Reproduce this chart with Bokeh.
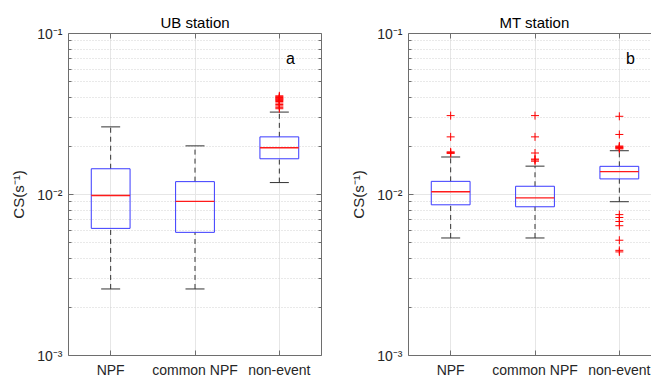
import numpy as np
from bokeh.plotting import figure
from bokeh.layouts import row
from bokeh.models import (FixedTicker, CustomJSTickFormatter, LinearAxis, LogAxis,
                          Label, ColumnDataSource, Range1d)
from bokeh.embed import file_html
from bokeh.resources import INLINE

# ---------------- data ----------------
categories = ["NPF", "common NPF", "non-event"]
panel_titles = ["UB station", "MT station"]
panel_letters = ["a", "b"]
y_label = "CS(s\u207b\u00b9)"

# UB station
ub_whisker_low = [0.00259, 0.00259, 0.01186]
ub_q1 = [0.00616, 0.00582, 0.01667]
ub_median = [0.00986, 0.00906, 0.0195]
ub_q3 = [0.01445, 0.01202, 0.0228]
ub_whisker_high = [0.0263, 0.02005, 0.0325]
ub_outliers = [[], [],
               [0.0341, 0.0348, 0.0355, 0.0362, 0.0370, 0.0378, 0.0384, 0.0388,
                0.0392, 0.0396, 0.0400, 0.0405, 0.0410]]

# MT station
mt_whisker_low = [0.00537, 0.00537, 0.00902]
mt_q1 = [0.00863, 0.00839, 0.0125]
mt_median = [0.0104, 0.00953, 0.01387]
mt_q3 = [0.01207, 0.01125, 0.01496]
mt_whisker_high = [0.0171, 0.0150, 0.0187]
mt_outliers = [[0.0309, 0.0228, 0.0184, 0.0182, 0.0180],
               [0.0309, 0.0228, 0.0181, 0.0166, 0.0164, 0.0161],
               [0.0306, 0.0236, 0.0200, 0.0198, 0.0196, 0.0194, 0.0192,
                0.0075, 0.0072, 0.0068, 0.0064, 0.0052, 0.0045, 0.0044]]

y_major = [1e-3, 1e-2, 1e-1]
y_minor = [m * 10.0 ** e for e in (-3, -2) for m in range(2, 10)]

FONT = "Liberation Sans"
AXIS_COLOR = "#6e6e6e"
TEXT_COLOR = "#262626"
BOX_W = 0.46
CAP_PX = 19

sup_js = """
const sup = {"-": "\u207b", "0": "\u2070", "1": "\u00b9", "2": "\u00b2", "3": "\u00b3",
             "4": "\u2074", "5": "\u2075", "6": "\u2076", "7": "\u2077", "8": "\u2078", "9": "\u2079"};
const e = Math.round(Math.log10(tick));
return "10" + String(e).split("").map(c => sup[c]).join("");
"""


def style_axis(ax, labels=True):
    ax.axis_line_color = AXIS_COLOR
    ax.major_tick_line_color = AXIS_COLOR
    ax.minor_tick_line_color = AXIS_COLOR
    ax.major_tick_out = 0
    ax.major_tick_in = 5
    ax.minor_tick_out = 0
    ax.minor_tick_in = 3
    if not labels:
        ax.formatter = CustomJSTickFormatter(code="return '';")
        ax.major_label_standoff = 0


def make_panel(idx, wl, q1, med, q3, wh, outl, width, border_left, border_right, x_end,
               right_axis, title_align, title_offset):
    xs = np.arange(1, len(categories) + 1, dtype=float)
    p = figure(width=width, height=380, y_axis_type="log",
               x_range=Range1d(0.5, x_end), y_range=Range1d(1e-3, 1e-1),
               output_backend="svg", toolbar_location=None,
               min_border_left=border_left, min_border_right=border_right,
               min_border_top=33, min_border_bottom=23)
    p.outline_line_color = None
    p.background_fill_color = "white"
    p.border_fill_color = "white"

    p.title.text = panel_titles[idx]
    p.title.text_font = FONT
    p.title.text_font_size = "15px"
    p.title.text_font_style = "normal"
    p.title.text_color = "black"
    p.title.align = title_align
    p.title.offset = title_offset
    p.title.standoff = 6

    # x axis
    xt = FixedTicker(ticks=list(xs), minor_ticks=[])
    p.xaxis.ticker = xt
    p.xaxis.major_label_overrides = {float(x): c for x, c in zip(xs, categories)}
    style_axis(p.xaxis[0])
    p.xaxis.major_label_text_font = FONT
    p.xaxis.major_label_text_font_size = "14px"
    p.xaxis.major_label_text_color = TEXT_COLOR
    p.xaxis.major_label_standoff = 6

    # y axis
    yt = FixedTicker(ticks=y_major, minor_ticks=y_minor)
    p.yaxis.ticker = yt
    p.yaxis.formatter = CustomJSTickFormatter(code=sup_js)
    style_axis(p.yaxis[0])
    p.yaxis.major_label_text_font = FONT
    p.yaxis.major_label_text_font_size = "14px"
    p.yaxis.major_label_text_color = TEXT_COLOR
    p.yaxis.major_label_standoff = 6
    p.yaxis.axis_label = y_label
    p.yaxis.axis_label_text_font = FONT
    p.yaxis.axis_label_text_font_size = "15px"
    p.yaxis.axis_label_text_font_style = "normal"
    p.yaxis.axis_label_text_color = TEXT_COLOR
    p.yaxis.axis_label_standoff = 7

    # top axis (box)
    top = LinearAxis(ticker=FixedTicker(ticks=list(xs), minor_ticks=[]))
    style_axis(top, labels=False)
    p.add_layout(top, "above")
    if right_axis:
        ra = LogAxis(ticker=FixedTicker(ticks=y_major, minor_ticks=y_minor))
        style_axis(ra, labels=False)
        p.add_layout(ra, "right")

    # grids
    p.xgrid.ticker = xt
    p.xgrid.grid_line_color = "#e6e6e6"
    p.ygrid.ticker = yt
    p.ygrid.grid_line_color = "#e6e6e6"
    p.ygrid.minor_grid_line_color = "#d2d2d2"
    p.ygrid.minor_grid_line_dash = "1 2"

    src = ColumnDataSource(dict(x=xs, x0=xs - BOX_W / 2, x1=xs + BOX_W / 2,
                                wl=wl, q1=q1, med=med, q3=q3, wh=wh))
    # whiskers
    p.segment(x0="x", x1="x", y0="q3", y1="wh", source=src, line_color="#333333",
              line_dash="5 4", line_width=1)
    p.segment(x0="x", x1="x", y0="wl", y1="q1", source=src, line_color="#333333",
              line_dash="5 4", line_width=1)
    p.scatter(x="x", y="wh", source=src, marker="dash", size=CAP_PX, line_color="#333333", line_width=1)
    p.scatter(x="x", y="wl", source=src, marker="dash", size=CAP_PX, line_color="#333333", line_width=1)
    # boxes
    p.quad(left="x0", right="x1", bottom="q1", top="q3", source=src,
           fill_color=None, line_color="#3a3aff", line_width=1)
    p.segment(x0="x0", x1="x1", y0="med", y1="med", source=src, line_color="#ff1a1a", line_width=1.4)

    # outliers
    ox = [x for x, ol in zip(xs, outl) for _ in ol]
    oy = [v for ol in outl for v in ol]
    p.scatter(x=ox, y=oy, marker="cross", size=8, line_color="red", line_width=1)

    # panel letter
    p.add_layout(Label(x=3.08, y=0.0702, text=panel_letters[idx], text_align="left",
                       text_baseline="alphabetic", text_font=FONT, text_font_size="16px",
                       text_color="black"))
    return p


px_per_unit = 253 / 3.0
p1 = make_panel(0, ub_whisker_low, ub_q1, ub_median, ub_q3, ub_whisker_high, ub_outliers,
                width=330, border_left=68, border_right=9, x_end=3.5, right_axis=True,
                title_align="center", title_offset=0)
p2 = make_panel(1, mt_whisker_low, mt_q1, mt_median, mt_q3, mt_whisker_high, mt_outliers,
                width=321, border_left=78, border_right=0, x_end=0.5 + 243 / px_per_unit,
                right_axis=False, title_align="left", title_offset=91)

layout = row(p1, p2)
open("out.html", "w").write(file_html(layout, INLINE))
